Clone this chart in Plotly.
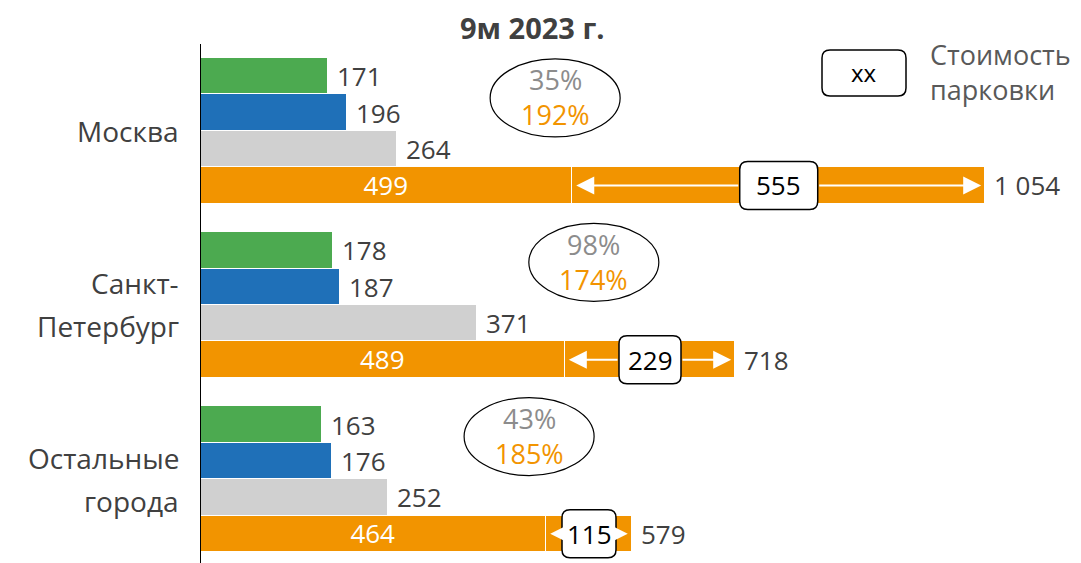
import plotly.graph_objects as go

# ---------------- data ----------------
cities = [["Москва"], ["Санкт-", "Петербург"], ["Остальные", "города"]]
green_vals = [171, 178, 163]
blue_vals = [196, 187, 176]
gray_vals = [264, 371, 252]
orange_base = [499, 489, 464]
parking_vals = [555, 229, 115]
totals = [1054, 718, 579]
pct_gray = ["35%", "98%", "43%"]
pct_orange = ["192%", "174%", "185%"]
title_text = "9м 2023 г."
legend_sample = "xx"
legend_lines = ["Стоимость", "парковки"]

# ---------------- styles / layout constants ----------------
FONT = "Open Sans"
DARK = "#404040"
GREEN = "#4CAA50"
BLUE = "#1F70B8"
GRAY = "#D0D0D0"
ORANGE = "#F29400"
PCT_GRAY = "#8C8C8C"
FS = 26          # value labels
FS_CAT = 28      # category labels
FS_PCT = 27
FS_LEG = 27

PITCH = 4.78          # vertical distance between groups (in bar units)
OFF = 8               # page body margin
W, H = 1081 - OFF, 563 - OFF
ML, MT = 201 - OFF, 44 - OFF
PX_PER_UNIT = 0.744
XMAX = (W - ML) / PX_PER_UNIT

box_w = [78, 62, 54]
box_h = 48
ell_x = [476, 528, 441]
ell_dy = [0.6, 0.33, 0.33]
ELL_W, ELL_H = 130, 78


def fmt(v):
    return f"{v:,}".replace(",", " ")


def rrect(w, h, r=8):
    a, b = w / 2, h / 2
    return (f"M {-a+r},{-b} L {a-r},{-b} Q {a},{-b} {a},{-b+r} L {a},{b-r} "
            f"Q {a},{b} {a-r},{b} L {-a+r},{b} Q {-a},{b} {-a},{b-r} "
            f"L {-a},{-b+r} Q {-a},{-b} {-a+r},{-b} Z")


def px(xp):
    return (xp - OFF - ML) / (W - ML)


def py(yp):
    return 1 - (yp - OFF - MT) / (H - MT)


n = len(cities)
ypos = lambda k: [g * PITCH + k for g in range(n)]

fig = go.Figure()
line = dict(color="white", width=1)
fig.add_trace(go.Bar(x=green_vals, y=ypos(0), orientation="h", width=1,
                     marker=dict(color=GREEN, line=line)))
fig.add_trace(go.Bar(x=blue_vals, y=ypos(1), orientation="h", width=1,
                     marker=dict(color=BLUE, line=line)))
fig.add_trace(go.Bar(x=gray_vals, y=ypos(2), orientation="h", width=1,
                     marker=dict(color=GRAY, line=line)))
fig.add_trace(go.Bar(x=orange_base, y=ypos(3), orientation="h", width=1,
                     marker=dict(color=ORANGE, line=dict(color="white", width=1.5)),
                     text=[str(v) for v in orange_base], textposition="inside",
                     insidetextanchor="middle", constraintext="none",
                     textfont=dict(family=FONT, size=FS, color="white")))
fig.add_trace(go.Bar(x=parking_vals, base=orange_base, y=ypos(3), orientation="h",
                     width=1, marker=dict(color=ORANGE, line=dict(color="white", width=1.5))))

ann = []
shapes = []
# value labels outside bars
for vals, k in [(green_vals, 0), (blue_vals, 1), (gray_vals, 2), (totals, 3)]:
    for g, v in enumerate(vals):
        ann.append(dict(x=v, y=g * PITCH + k, xref="x", yref="y", text=fmt(v),
                        showarrow=False, xanchor="left", yanchor="middle", xshift=7,
                        font=dict(family=FONT, size=FS, color=DARK)))

# parking boxes + arrows
for g in range(n):
    yc = g * PITCH + 3
    xc = orange_base[g] + parking_vals[g] / 2
    for head in (orange_base[g], totals[g]):
        ann.append(dict(x=head, y=yc, ax=xc, ay=yc, xref="x", yref="y",
                        axref="x", ayref="y", text="", showarrow=True,
                        arrowcolor="white", arrowwidth=2, arrowhead=2,
                        arrowsize=1.8, standoff=4, startstandoff=box_w[g] / 2))
    shapes.append(dict(type="path", xref="x", yref="y", xsizemode="pixel",
                       ysizemode="pixel", xanchor=xc, yanchor=yc,
                       path=rrect(box_w[g], box_h), fillcolor="white",
                       line=dict(color="black", width=1.5), layer="above"))
    ann.append(dict(x=xc, y=yc, xref="x", yref="y", text=str(parking_vals[g]),
                    showarrow=False, xanchor="center", yanchor="middle",
                    font=dict(family=FONT, size=FS, color="black")))

# ellipses with percentages
for g in range(n):
    yc = g * PITCH + ell_dy[g]
    shapes.append(dict(type="circle", xref="x", yref="y", xsizemode="pixel",
                       ysizemode="pixel", xanchor=ell_x[g], yanchor=yc,
                       x0=-ELL_W / 2, x1=ELL_W / 2, y0=-ELL_H / 2, y1=ELL_H / 2,
                       line=dict(color="black", width=1.2), layer="above"))
    ann.append(dict(x=ell_x[g], y=yc, xref="x", yref="y", text=pct_gray[g],
                    showarrow=False, xanchor="center", yanchor="middle", yshift=18,
                    font=dict(family=FONT, size=FS_PCT, color=PCT_GRAY)))
    ann.append(dict(x=ell_x[g], y=yc, xref="x", yref="y", text=pct_orange[g],
                    showarrow=False, xanchor="center", yanchor="middle", yshift=-17,
                    font=dict(family=FONT, size=FS_PCT, color=ORANGE)))

# category labels
for g, lines in enumerate(cities):
    yc = g * PITCH + 1.5
    m = len(lines)
    for i, t in enumerate(lines):
        off = ((m - 1) / 2 - i) * 43
        ann.append(dict(x=0, y=yc, xref="paper", yref="y", text=t, showarrow=False,
                        xanchor="right", yanchor="middle", xshift=-20, yshift=off,
                        font=dict(family=FONT, size=FS_CAT, color=DARK)))

# legend
shapes.append(dict(type="path", xref="paper", yref="paper", xsizemode="pixel",
                   ysizemode="pixel", xanchor=px(864), yanchor=py(73),
                   path=rrect(84, 46), fillcolor="white",
                   line=dict(color="black", width=1.5)))
ann.append(dict(x=px(864), y=py(73), xref="paper", yref="paper", text=legend_sample,
                showarrow=False, xanchor="center", yanchor="middle",
                font=dict(family=FONT, size=FS - 2, color="black")))
ann.append(dict(x=px(928), y=py(72), xref="paper", yref="paper",
                text="<br>".join(legend_lines), showarrow=False,
                xanchor="left", yanchor="middle", align="left",
                font=dict(family=FONT, size=FS_LEG, color="#595959")))

# title
ann.append(dict(x=px(532), y=py(28), xref="paper", yref="paper",
                text=f"<b>{title_text}</b>", showarrow=False,
                xanchor="center", yanchor="middle",
                font=dict(family=FONT, size=29, color=DARK)))

fig.update_layout(
    width=W, height=H, margin=dict(l=ML, r=0, t=MT, b=0, autoexpand=False),
    paper_bgcolor="white", plot_bgcolor="white",
    barmode="stack", bargap=0, showlegend=False,
    xaxis=dict(range=[0, XMAX], visible=False, fixedrange=True),
    yaxis=dict(range=[2 * PITCH + 3 + 0.5 + 0.3, -0.88], showline=True,
               linecolor="black", linewidth=1, showticklabels=False,
               showgrid=False, zeroline=False, ticks=""),
    annotations=ann, shapes=shapes,
)
fig.write_html("out.html")
